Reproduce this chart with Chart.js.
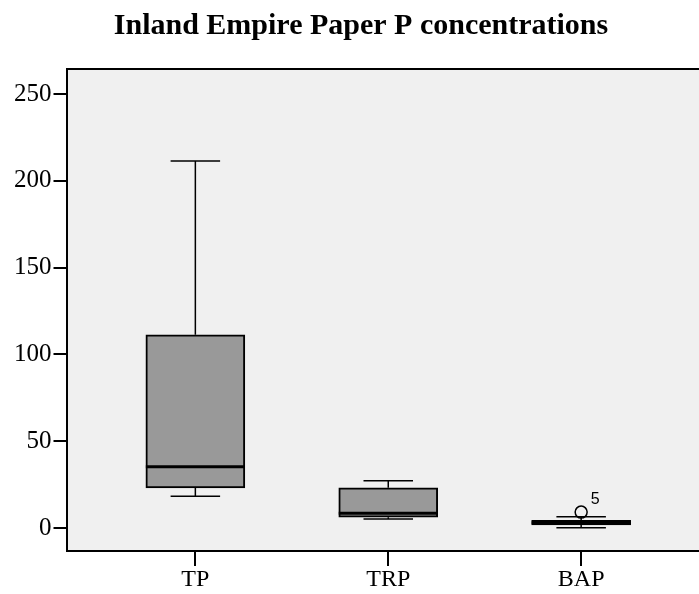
<!DOCTYPE html>
<html>
<head>
<meta charset="utf-8">
<title>Inland Empire Paper P concentrations</title>
<script src="https://cdn.jsdelivr.net/npm/chart.js@4.4.1/dist/chart.umd.min.js"></script>
<style>
  html, body { margin: 0; padding: 0; background: #fff; overflow: hidden; }
  #wrap { width: 699px; height: 594px; overflow: hidden; }
</style>
</head>
<body>
<div id="wrap"><canvas id="boxChart" width="725" height="594"></canvas></div>
<script>
// --- Data ---
const categories = ["TP", "TRP", "BAP"];
const whiskerLow = [18.4, 5.2, 0.2];
const q1 = [23.2, 6.3, 1.8];
const median = [35.3, 8.5, 3.0];
const q3 = [111.3, 23.2, 4.4];
const whiskerHigh = [211.4, 27.3, 6.5];
const outlierCat = [2];
const outlierValue = [9.2];
const outlierLabel = ["5"];
const yTicks = [0, 50, 100, 150, 200, 250];

const BOX_WIDTH = 99;
const serif = "'Liberation Serif', 'Times New Roman', serif";

// --- Plot background + top frame ---
const framePlugin = {
  id: "frame",
  beforeDraw(chart) {
    const { ctx, chartArea: a } = chart;
    ctx.save();
    ctx.fillStyle = "#f0f0f0";
    ctx.fillRect(a.left, a.top, a.right - a.left, a.bottom - a.top);
    ctx.restore();
  },
  afterDraw(chart) {
    const { ctx, chartArea: a } = chart;
    ctx.save();
    ctx.strokeStyle = "#000";
    ctx.lineWidth = 2;
    ctx.beginPath();
    ctx.moveTo(a.left, a.top);
    ctx.lineTo(a.right + 5, a.top);
    ctx.stroke();
    ctx.restore();
  }
};

// --- Whiskers, medians and outlier labels ---
const boxPlugin = {
  id: "boxParts",
  afterDatasetsDraw(chart) {
    const { ctx, scales } = chart;
    const xs = scales.x, ys = scales.y;
    const half = BOX_WIDTH / 2;
    ctx.save();
    ctx.strokeStyle = "#000";
    categories.forEach((c, i) => {
      const x = xs.getPixelForValue(i);
      const yHi = ys.getPixelForValue(whiskerHigh[i]);
      const yQ3 = ys.getPixelForValue(q3[i]);
      const yQ1 = ys.getPixelForValue(q1[i]);
      const yLo = ys.getPixelForValue(whiskerLow[i]);
      const yMed = ys.getPixelForValue(median[i]);

      ctx.lineWidth = 1.5;
      ctx.beginPath();
      ctx.moveTo(x, yQ3); ctx.lineTo(x, yHi);
      ctx.moveTo(x - half / 2, yHi); ctx.lineTo(x + half / 2, yHi);
      ctx.moveTo(x, yQ1); ctx.lineTo(x, yLo);
      ctx.moveTo(x - half / 2, yLo); ctx.lineTo(x + half / 2, yLo);
      ctx.stroke();

      ctx.lineWidth = 3;
      ctx.beginPath();
      ctx.moveTo(x - half, yMed); ctx.lineTo(x + half, yMed);
      ctx.stroke();
    });

    ctx.fillStyle = "#000";
    ctx.font = "16px 'Liberation Sans', Arial, sans-serif";
    ctx.textAlign = "center";
    ctx.textBaseline = "middle";
    outlierCat.forEach((c, k) => {
      const x = xs.getPixelForValue(c) + 14;
      const y = ys.getPixelForValue(outlierValue[k]) - 13;
      ctx.fillText(outlierLabel[k], x, y);
    });
    ctx.restore();
  }
};

const ctx = document.getElementById("boxChart").getContext("2d");
const boxChart = new Chart(ctx, {
  type: "bar",
  data: {
    datasets: [
      {
        label: "box",
        data: categories.map((c, i) => ({ x: i, y: [q1[i], q3[i]] })),
        backgroundColor: "#999999",
        borderColor: "#000",
        borderWidth: 2,
        borderSkipped: false,
        barThickness: BOX_WIDTH,
        order: 2
      },
      {
        type: "scatter",
        label: "outliers",
        data: outlierCat.map((c, k) => ({ x: c, y: outlierValue[k] })),
        pointStyle: "circle",
        pointRadius: 6,
        pointBorderColor: "#000",
        pointBackgroundColor: "rgba(0,0,0,0)",
        pointBorderWidth: 1.5,
        order: 1
      }
    ]
  },
  options: {
    responsive: false,
    animation: false,
    layout: { padding: { left: 12, right: 15, top: 0, bottom: 0 } },
    plugins: {
      legend: { display: false },
      tooltip: { enabled: false },
      title: {
        display: true,
        text: "Inland Empire Paper P concentrations",
        color: "#000",
        font: { family: serif, size: 30, weight: "bold", lineHeight: 1.2 },
        padding: { top: 8, bottom: 25 }
      }
    },
    scales: {
      x: {
        type: "linear",
        min: -0.668,
        max: 2.668,
        offset: false,
        afterBuildTicks: (scale) => { scale.ticks = categories.map((c, i) => ({ value: i })); },
        ticks: {
          autoSkip: false,
          color: "#000",
          padding: 2,
          font: { family: serif, size: 24, lineHeight: 1 },
          callback: (v) => categories[v]
        },
        grid: { offset: false, drawOnChartArea: false, drawTicks: true, tickLength: 15, color: "#000", lineWidth: 2 },
        border: { display: true, color: "#000", width: 2 }
      },
      y: {
        min: -13.2,
        max: 264.4,
        afterBuildTicks: (scale) => { scale.ticks = yTicks.map(v => ({ value: v })); },
        ticks: {
          color: "#000",
          padding: 2,
          font: { family: serif, size: 25, lineHeight: 1 }
        },
        grid: { drawOnChartArea: false, drawTicks: true, tickLength: 13, color: "#000", lineWidth: 2 },
        border: { display: true, color: "#000", width: 2 }
      }
    }
  },
  plugins: [framePlugin, boxPlugin]
});
</script>
</body>
</html>
